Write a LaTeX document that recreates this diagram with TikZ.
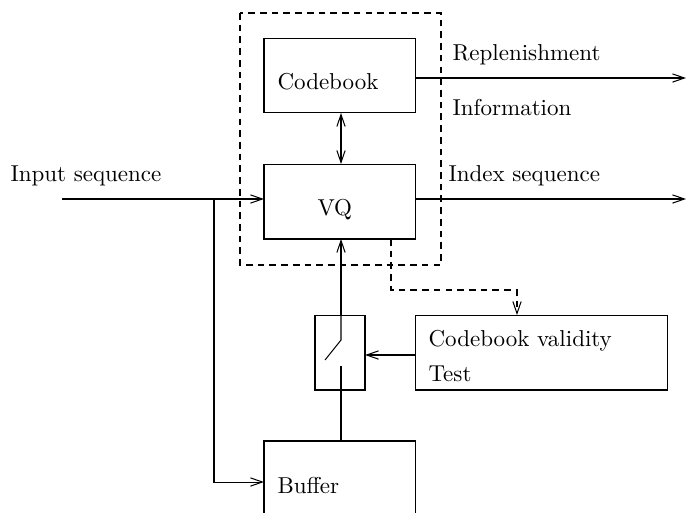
\documentclass[tikz,border=0pt]{standalone}
\usepackage{tikz}
\usetikzlibrary{arrows.meta}
\tikzset{%
  block/.style  = {shape=rectangle, draw, inner sep=0pt, outer sep=0pt,%
                   minimum width=65.7pt, minimum height=32.6pt},%
  label/.style  = {anchor=base west, inner sep=0pt},%
  frame/.style  = {draw, dash pattern=on 2.9pt off 2.2pt},%
  flow/.style   = {-{Straight Barb[length=5.2pt,width=3.6pt]}},%
  dflow/.style  = {{Straight Barb[length=5.2pt,width=3.6pt]}-{Straight Barb[length=5.2pt,width=3.6pt]}}%
}

\begin{document}
\begin{tikzpicture}[x=0.435pt, y=-0.435pt, line width=0.45pt]
                  \useasboundingbox (0,0) rectangle (686,512);
                  % dashed frame round codebook and VQ
                  \draw[frame] (240,13) rectangle (441,265);
                  \node[block] (codebook) at (339.5,75.5) {};
                  \node[block] (vq) at (339.5,201.5) {};
                  \node[block, minimum width=21.75pt] (switch) at (340,352.5) {};
                  \node[block, minimum width=109.6pt] (validity) at (541.5,352.5) {};
                  \node[block, minimum height=35.7pt] (buffer) at (339.5,482) {};
                  % texts
                  \node[label] (codebooktxt) at (277,89) {Codebook};
                  \node[label] (vqtxt) at (317,215) {VQ};
                  \node[label] (buffertxt) at (277,493) {Buffer};
                  \node[label] (validitytxt) at (428,346.5) {Codebook validity};
                  \node[label] (testtxt) at (428,381.5) {Test};
                  \node[label] (inputtxt) at (10,181) {Input sequence};
                  \node[label] (replentxt) at (452,60) {Replenishment};
                  \node[label] (infotxt) at (452,115) {Information};
                  \node[label] (indextxt) at (448,181.5) {Index sequence};
                  % free ends and bends
                  \coordinate (in) at (62,199);
                  \coordinate (split) at (214,199);
                  \coordinate (cbout) at (686,78);
                  \coordinate (vqout) at (686,199);
                  \coordinate (tap) at (391,239);
                  \coordinate (bend) at (517,290);
                  \coordinate (swtop) at (341,340);
                  \coordinate (swfree) at (325,360);
                  \coordinate (swbot) at (341,366);
                  \coordinate (test) at (415,355);
                  % connectors
                  \draw[flow] (in) -- (in -| vq.west);
                  \draw[flow] (split) |- (buffer.west);
                  \draw[flow] (cbout -| codebook.east) -- (cbout);
                  \draw[flow] (vqout -| vq.east) -- (vqout);
                  \draw[dflow] (codebook.south -| swtop) -- (vq.north -| swtop);
                  \draw[flow, dash pattern=on 2.9pt off 2.2pt] (tap) |- (bend) -- (bend |- validity.north);
                  \draw[flow] (test) -- (test -| switch.east);
                  \draw[flow] (switch.north -| swtop) -- (vq.south -| swtop);
                  \draw (switch.north -| swtop) -- (swtop) -- (swfree);
                  \draw (buffer.north -| swbot) -- (swbot);
            \end{tikzpicture}
\end{document}
